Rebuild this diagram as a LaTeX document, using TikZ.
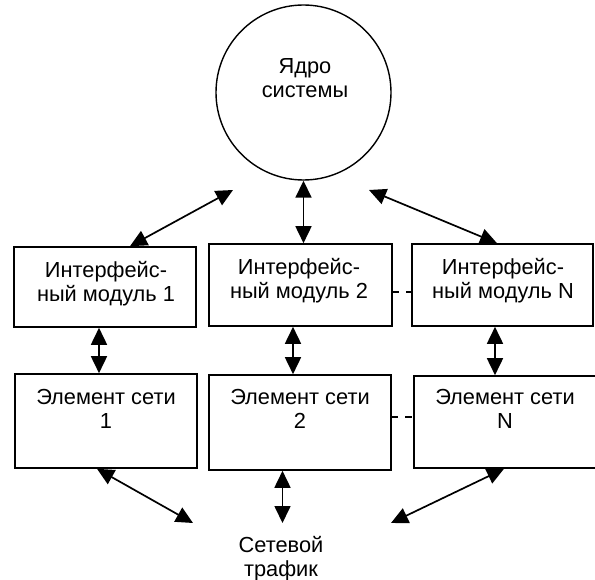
\documentclass[tikz,border=0pt]{standalone}
\usepackage{fontspec}
\setmainfont{Liberation Sans}
\usetikzlibrary{arrows.meta}

\begin{document}
\begin{tikzpicture}[x=1pt, y=-1pt,
    box/.style={draw, line width=1.6pt, inner sep=0pt},
    caption/.style={font=\fontsize{21.8}{24.5}\selectfont, align=center, inner sep=0pt, anchor=north},
    link/.style={{Triangle[length=17pt,width=16pt]}-{Triangle[length=17pt,width=16pt]}, line width=1.7pt},
    gap/.style={dash pattern=on 6.5pt off 7pt, line width=1.4pt}]
    \useasboundingbox (0,0) rectangle (595,580);

    % Core
    \node[draw, circle, line width=1.4pt, minimum size=175pt, inner sep=0pt] (core) at (303.5,92.5) {};
    \node[caption] (coretxt) at (305,58) {Ядро\\системы};

    % Interface modules
    \node[box, minimum width=182pt, minimum height=80pt] (im1) at (105,287) {};
    \node[caption] (im1txt) at (106,261) {Интерфейс-\\ный модуль 1};
    \node[box, minimum width=183pt, minimum height=82pt] (im2) at (300.5,285) {};
    \node[caption] (im2txt) at (299,258) {Интерфейс-\\ный модуль 2};
    \node[box, minimum width=181pt, minimum height=82pt] (imN) at (502.5,285) {};
    \node[caption] (imNtxt) at (503,258) {Интерфейс-\\ный модуль N};

    % Network elements
    \node[box, minimum width=182pt, minimum height=94pt] (e1) at (106,421) {};
    \node[caption] (e1txt) at (106,389) {Элемент сети\\1};
    \node[box, minimum width=182pt, minimum height=95pt] (e2) at (300,422.5) {};
    \node[caption] (e2txt) at (300,389) {Элемент сети\\2};
    \node[box, minimum width=186pt, minimum height=92pt] (eN) at (507,422) {};
    \node[caption] (eNtxt) at (505,389) {Элемент сети\\N};

    % Traffic
    \node[caption] (traffic) at (281,536) {Сетевой\\трафик};

    % Core links
    \coordinate (c1) at (233,190);
    \coordinate (c2) at (369,190);
    \draw[link] ([xshift=25pt]im1.north) -- (c1);
    \draw[link] (core.south) -- (core.south |- im2.north);
    \draw[link] (c2) -- ([xshift=-5.5pt]imN.north);

    % Module to element links
    \draw[link] ([xshift=-6pt]im1.south) -- ([xshift=-6pt]im1.south |- e1.north);
    \draw[link] ([xshift=-7.5pt]im2.south) -- ([xshift=-7.5pt]im2.south |- e2.north);
    \draw[link] ([xshift=-7.5pt]imN.south) -- ([xshift=-7.5pt]imN.south |- eN.north);

    % Traffic links
    \coordinate (t1) at (193,523);
    \coordinate (t2) at (391,523);
    \draw[link] ([xshift=-9pt]e1.south) -- (t1);
    \draw[link] ([xshift=-17.5pt]e2.south) -- ([xshift=-17.5pt]e2.south |- t1);
    \draw[link] ([xshift=-3pt]eN.south) -- (t2);

    % Omitted modules
    \draw[gap] ([yshift=-7pt]im2.east) -- ([yshift=-7pt]im2.east -| imN.west);
    \draw[gap] ([yshift=5.5pt]e2.east) -- ([yshift=5.5pt]e2.east -| eN.west);
\end{tikzpicture}
\end{document}
